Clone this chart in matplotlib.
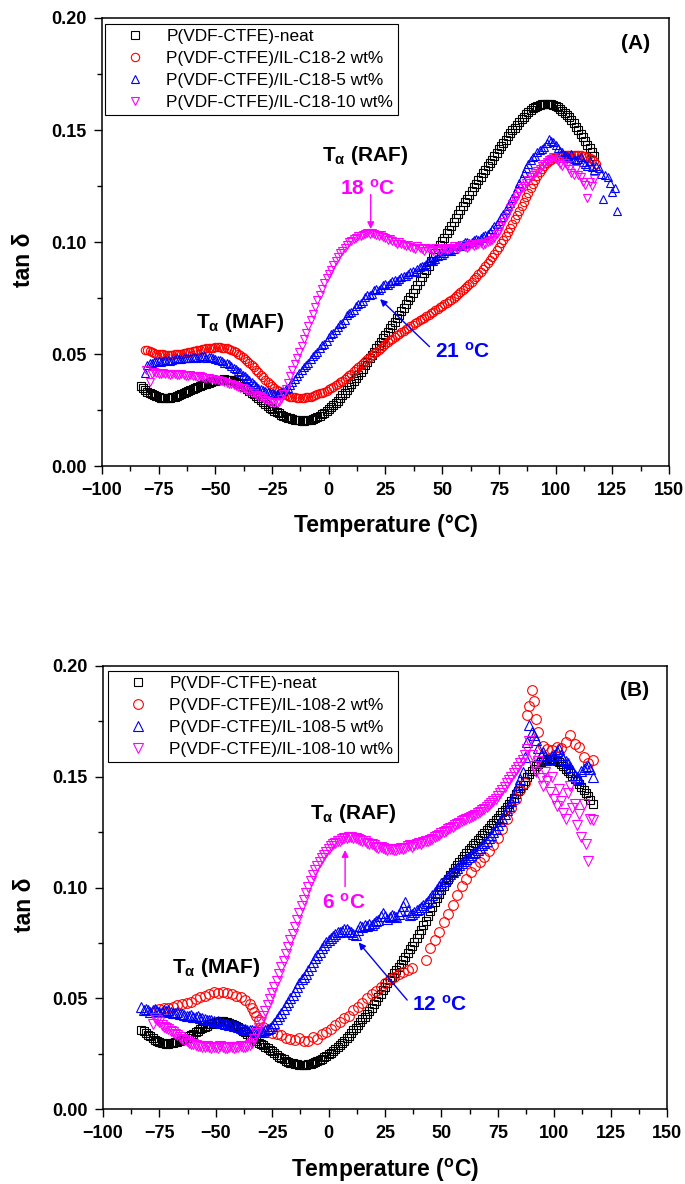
import matplotlib
matplotlib.use("Agg")
import matplotlib.pyplot as plt
from matplotlib.ticker import MultipleLocator, StrMethodFormatter

plt.rcParams.update({
    "font.family": ["Liberation Sans", "DejaVu Sans"],
    "mathtext.fontset": "custom",
    "mathtext.rm": "Liberation Sans:bold",
    "mathtext.it": "Liberation Sans:bold",
    "mathtext.bf": "Liberation Sans:bold",
})

# ---------------- Panel A : IL-C18 (temperature in degC, tan delta) ----------------
tA_neat = [-83, -82, -81, -80, -79, -78, -77, -76, -75, -74,
           -73, -72, -71, -70, -69, -68, -67, -66, -65, -64,
           -63, -62, -61, -60, -59, -58, -57, -56, -55, -54,
           -53, -52, -51, -50, -49, -48, -47, -46, -45, -44,
           -43, -42, -41, -40, -39, -38, -37, -36, -35, -34,
           -33, -32, -31, -30, -29, -28, -27, -26, -25, -24,
           -23, -22, -21, -20, -19, -18, -17, -16, -15, -14,
           -13, -12, -11, -10, -9, -8, -7, -6, -5, -4,
           -3, -2, -1, 0, 1, 2, 3, 4, 5, 6,
           7, 8, 9, 10, 11, 12, 13, 14, 15, 16,
           17, 18, 19, 20, 21, 22, 23, 24, 25, 26,
           27, 28, 29, 30, 31, 32, 33, 34, 35, 36,
           37, 38, 39, 40, 41, 42, 43, 44, 45, 46,
           47, 48, 49, 50, 51, 52, 53, 54, 55, 56,
           57, 58, 59, 60, 61, 62, 63, 64, 65, 66,
           67, 68, 69, 70, 71, 72, 73, 74, 75, 76,
           77, 78, 79, 80, 81, 82, 83, 84, 85, 86,
           87, 88, 89, 90, 91, 92, 93, 94, 95, 96,
           97, 98, 99, 100, 101, 102, 103, 104, 105, 106,
           107, 108, 109, 110, 111, 112, 113, 114, 115, 116,
           117]
dA_neat = [0.0356, 0.0350, 0.0340, 0.0332, 0.0326, 0.0320, 0.0315, 0.0311, 0.0308, 0.0305,
           0.0304, 0.0303, 0.0303, 0.0304, 0.0306, 0.0309, 0.0312, 0.0316, 0.0320, 0.0325,
           0.0330, 0.0335, 0.0340, 0.0345, 0.0349, 0.0353, 0.0357, 0.0361, 0.0365, 0.0368,
           0.0372, 0.0375, 0.0378, 0.0381, 0.0383, 0.0385, 0.0386, 0.0387, 0.0386, 0.0385,
           0.0382, 0.0379, 0.0375, 0.0370, 0.0364, 0.0358, 0.0351, 0.0344, 0.0336, 0.0328,
           0.0320, 0.0311, 0.0302, 0.0294, 0.0285, 0.0277, 0.0269, 0.0261, 0.0254, 0.0247,
           0.0241, 0.0235, 0.0229, 0.0224, 0.0220, 0.0216, 0.0213, 0.0210, 0.0207, 0.0205,
           0.0204, 0.0203, 0.0203, 0.0204, 0.0205, 0.0207, 0.0210, 0.0214, 0.0219, 0.0224,
           0.0231, 0.0238, 0.0246, 0.0255, 0.0263, 0.0272, 0.0282, 0.0292, 0.0303, 0.0315,
           0.0327, 0.0340, 0.0353, 0.0366, 0.0379, 0.0392, 0.0406, 0.0420, 0.0435, 0.0450,
           0.0465, 0.0480, 0.0495, 0.0510, 0.0525, 0.0540, 0.0555, 0.0570, 0.0585, 0.0600,
           0.0615, 0.0630, 0.0645, 0.0660, 0.0676, 0.0692, 0.0707, 0.0723, 0.0739, 0.0756,
           0.0773, 0.0790, 0.0807, 0.0825, 0.0842, 0.0860, 0.0877, 0.0895, 0.0913, 0.0932,
           0.0950, 0.0968, 0.0985, 0.1003, 0.1020, 0.1038, 0.1055, 0.1073, 0.1090, 0.1108,
           0.1125, 0.1143, 0.1160, 0.1177, 0.1194, 0.1211, 0.1227, 0.1244, 0.1260, 0.1277,
           0.1292, 0.1308, 0.1323, 0.1338, 0.1353, 0.1368, 0.1383, 0.1398, 0.1413, 0.1428,
           0.1442, 0.1457, 0.1471, 0.1485, 0.1498, 0.1511, 0.1524, 0.1536, 0.1548, 0.1559,
           0.1570, 0.1580, 0.1589, 0.1597, 0.1603, 0.1608, 0.1611, 0.1614, 0.1615, 0.1616,
           0.1615, 0.1614, 0.1611, 0.1607, 0.1601, 0.1595, 0.1587, 0.1578, 0.1567, 0.1556,
           0.1543, 0.1530, 0.1515, 0.1500, 0.1484, 0.1468, 0.1452, 0.1435, 0.1418, 0.1400,
           0.1385]

tA_2 = [-81, -80, -79, -78, -77, -76, -75, -74, -73, -72,
        -71, -70, -69, -68, -67, -66, -65, -64, -63, -62,
        -61, -60, -59, -58, -57, -56, -55, -54, -53, -52,
        -51, -50, -49, -48, -47, -46, -45, -44, -43, -42,
        -41, -40, -39, -38, -37, -36, -35, -34, -33, -32,
        -31, -30, -29, -28, -27, -26, -25, -24, -23, -22,
        -21, -20, -19, -18, -17, -16, -15, -14, -13, -12,
        -11, -10, -9, -8, -7, -6, -5, -4, -3, -2,
        -1, 0, 1, 2, 3, 4, 5, 6, 7, 8,
        9, 10, 11, 12, 13, 14, 15, 16, 17, 18,
        19, 20, 21, 22, 23, 24, 25, 26, 27, 28,
        29, 30, 31, 32, 33, 34, 35, 36, 37, 38,
        39, 40, 41, 42, 43, 44, 45, 46, 47, 48,
        49, 50, 51, 52, 53, 54, 55, 56, 57, 58,
        59, 60, 61, 62, 63, 64, 65, 66, 67, 68,
        69, 70, 71, 72, 73, 74, 75, 76, 77, 78,
        79, 80, 81, 82, 83, 84, 85, 86, 87, 88,
        89, 90, 91, 92, 93, 94, 95, 96, 97, 98,
        99, 100, 101, 102, 103, 104, 105, 106, 107, 108,
        109, 110, 111, 112, 113, 114, 115, 116, 117, 118]
dA_2 = [0.0520, 0.0516, 0.0512, 0.0508, 0.0505, 0.0502, 0.0500, 0.0499, 0.0498, 0.0497,
        0.0497, 0.0497, 0.0497, 0.0498, 0.0499, 0.0500, 0.0502, 0.0504, 0.0506, 0.0508,
        0.0510, 0.0512, 0.0514, 0.0516, 0.0519, 0.0521, 0.0523, 0.0525, 0.0527, 0.0528,
        0.0529, 0.0530, 0.0530, 0.0530, 0.0529, 0.0527, 0.0525, 0.0522, 0.0518, 0.0513,
        0.0508, 0.0502, 0.0495, 0.0487, 0.0479, 0.0470, 0.0461, 0.0451, 0.0440, 0.0429,
        0.0418, 0.0407, 0.0396, 0.0385, 0.0375, 0.0365, 0.0356, 0.0348, 0.0340, 0.0333,
        0.0327, 0.0322, 0.0317, 0.0313, 0.0310, 0.0308, 0.0306, 0.0305, 0.0304, 0.0304,
        0.0305, 0.0306, 0.0308, 0.0310, 0.0313, 0.0316, 0.0320, 0.0324, 0.0328, 0.0332,
        0.0337, 0.0342, 0.0348, 0.0354, 0.0360, 0.0367, 0.0374, 0.0381, 0.0389, 0.0397,
        0.0405, 0.0413, 0.0422, 0.0431, 0.0440, 0.0449, 0.0458, 0.0467, 0.0476, 0.0485,
        0.0494, 0.0503, 0.0511, 0.0520, 0.0528, 0.0537, 0.0545, 0.0553, 0.0561, 0.0569,
        0.0576, 0.0583, 0.0590, 0.0597, 0.0604, 0.0611, 0.0617, 0.0624, 0.0630, 0.0637,
        0.0643, 0.0650, 0.0656, 0.0663, 0.0669, 0.0676, 0.0682, 0.0689, 0.0695, 0.0702,
        0.0708, 0.0715, 0.0722, 0.0729, 0.0736, 0.0743, 0.0751, 0.0759, 0.0767, 0.0775,
        0.0784, 0.0793, 0.0803, 0.0813, 0.0823, 0.0834, 0.0845, 0.0856, 0.0868, 0.0880,
        0.0893, 0.0906, 0.0920, 0.0934, 0.0948, 0.0963, 0.0978, 0.0994, 0.1010, 0.1027,
        0.1045, 0.1063, 0.1082, 0.1101, 0.1120, 0.1140, 0.1160, 0.1180, 0.1200, 0.1220,
        0.1240, 0.1259, 0.1278, 0.1296, 0.1312, 0.1327, 0.1340, 0.1351, 0.1360, 0.1368,
        0.1374, 0.1379, 0.1383, 0.1386, 0.1388, 0.1389, 0.1390, 0.1390, 0.1390, 0.1390,
        0.1389, 0.1388, 0.1387, 0.1385, 0.1382, 0.1379, 0.1375, 0.1369, 0.1362, 0.1350]

tA_5 = [-81, -80, -79, -78, -77, -76, -75, -74, -73, -72,
        -71, -70, -69, -68, -67, -66, -65, -64, -63, -62,
        -61, -60, -59, -58, -57, -56, -55, -54, -53, -52,
        -51, -50, -49, -48, -47, -46, -45, -44, -43, -42,
        -41, -40, -39, -38, -37, -36, -35, -34, -33, -32,
        -31, -30, -29, -28, -27, -26, -25, -24, -23, -22,
        -21, -20, -19, -18, -17, -16, -15, -14, -13, -12,
        -11, -10, -9, -8, -7, -6, -5, -4, -3, -2,
        -1, 0, 1, 2, 3, 4, 5, 6, 7, 8,
        9, 10, 11, 12, 13, 14, 15, 16, 17, 18,
        19, 20, 21, 22, 23, 24, 25, 26, 27, 28,
        29, 30, 31, 32, 33, 34, 35, 36, 37, 38,
        39, 40, 41, 42, 43, 44, 45, 46, 47, 48,
        49, 50, 51, 52, 53, 54, 55, 56, 57, 58,
        59, 60, 61, 62, 63, 64, 65, 66, 67, 68,
        69, 70, 71, 72, 73, 74, 75, 76, 77, 78,
        79, 80, 81, 82, 83, 84, 85, 86, 87, 88,
        89, 90, 91, 92, 93, 94, 95, 96, 97, 98,
        99, 100, 101, 102, 103, 104, 105, 106, 107, 108,
        109, 110, 111, 112, 113, 114, 115, 116, 117, 118,
        119, 120, 121, 122, 123, 124, 125, 126, 127]
dA_5 = [0.0415, 0.0452, 0.0460, 0.0458, 0.0463, 0.0466, 0.0470, 0.0465, 0.0468, 0.0472,
        0.0475, 0.0471, 0.0474, 0.0477, 0.0480, 0.0476, 0.0478, 0.0482, 0.0484, 0.0480,
        0.0482, 0.0486, 0.0488, 0.0484, 0.0485, 0.0489, 0.0490, 0.0484, 0.0486, 0.0485,
        0.0482, 0.0477, 0.0475, 0.0472, 0.0468, 0.0462, 0.0458, 0.0454, 0.0448, 0.0438,
        0.0432, 0.0426, 0.0418, 0.0408, 0.0400, 0.0394, 0.0385, 0.0374, 0.0365, 0.0358,
        0.0350, 0.0343, 0.0338, 0.0333, 0.0330, 0.0327, 0.0324, 0.0321, 0.0322, 0.0325,
        0.0330, 0.0335, 0.0342, 0.0350, 0.0362, 0.0376, 0.0390, 0.0402, 0.0415, 0.0428,
        0.0440, 0.0450, 0.0462, 0.0478, 0.0490, 0.0498, 0.0510, 0.0528, 0.0540, 0.0545,
        0.0556, 0.0575, 0.0590, 0.0595, 0.0605, 0.0622, 0.0635, 0.0640, 0.0652, 0.0672,
        0.0685, 0.0688, 0.0697, 0.0716, 0.0725, 0.0728, 0.0738, 0.0755, 0.0765, 0.0762,
        0.0770, 0.0784, 0.0790, 0.0788, 0.0795, 0.0808, 0.0812, 0.0809, 0.0815, 0.0828,
        0.0832, 0.0828, 0.0835, 0.0846, 0.0850, 0.0847, 0.0855, 0.0868, 0.0872, 0.0868,
        0.0878, 0.0890, 0.0895, 0.0893, 0.0900, 0.0913, 0.0918, 0.0916, 0.0925, 0.0937,
        0.0942, 0.0940, 0.0950, 0.0960, 0.0965, 0.0962, 0.0970, 0.0980, 0.0985, 0.0982,
        0.0990, 0.0998, 0.1000, 0.0995, 0.1002, 0.1010, 0.1012, 0.1010, 0.1018, 0.1026,
        0.1030, 0.1036, 0.1045, 0.1058, 0.1070, 0.1082, 0.1095, 0.1110, 0.1125, 0.1142,
        0.1160, 0.1176, 0.1195, 0.1220, 0.1240, 0.1262, 0.1285, 0.1310, 0.1330, 0.1350,
        0.1365, 0.1378, 0.1385, 0.1400, 0.1410, 0.1415, 0.1425, 0.1440, 0.1460, 0.1452,
        0.1445, 0.1432, 0.1420, 0.1408, 0.1400, 0.1390, 0.1382, 0.1375, 0.1395, 0.1372,
        0.1365, 0.1372, 0.1380, 0.1355, 0.1348, 0.1340, 0.1360, 0.1335, 0.1320, 0.1338,
        0.1330, 0.1305, 0.1190, 0.1300, 0.1290, 0.1265, 0.1225, 0.1240, 0.1140]

tA_10 = [-80.5, -79,
         -78, -77, -76, -75, -74, -73, -72, -71, -70, -69,
         -68, -67, -66, -65, -64, -63, -62, -61, -60, -59,
         -58, -57, -56, -55, -54, -53, -52, -51, -50, -49,
         -48, -47, -46, -45, -44, -43, -42, -41, -40, -39,
         -38, -37, -36, -35, -34, -33, -32, -31, -30, -29,
         -28, -27, -26, -25, -24, -23, -22, -21, -20, -19,
         -18, -17, -16, -15, -14, -13, -12, -11, -10, -9,
         -8, -7, -6, -5, -4, -3, -2, -1, 0, 1,
         2, 3, 4, 5, 6, 7, 8, 9, 10, 11,
         12, 13, 14, 15, 16, 17, 18, 19, 20, 21,
         22, 23, 24, 25, 26, 27, 28, 29, 30, 31,
         32, 33, 34, 35, 36, 37, 38, 39, 40, 41,
         42, 43, 44, 45, 46, 47, 48, 49, 50, 51,
         52, 53, 54, 55, 56, 57, 58, 59, 60, 61,
         62, 63, 64, 65, 66, 67, 68, 69, 70, 71,
         72, 73, 74, 75, 76, 77, 78, 79, 80, 81,
         82, 83, 84, 85, 86, 87, 88, 89, 90, 91,
         92, 93, 94, 95, 96, 97, 98, 99, 100, 101,
         102, 103, 104, 105, 106, 107, 108, 109, 110, 111,
         112, 113, 114, 115, 116, 117]
dA_10 = [0.0430, 0.0375,
         0.0412, 0.0418, 0.0414, 0.0412, 0.0410, 0.0416, 0.0412, 0.0410, 0.0408, 0.0413,
         0.0409, 0.0407, 0.0405, 0.0410, 0.0406, 0.0404, 0.0402, 0.0406, 0.0401, 0.0400,
         0.0397, 0.0401, 0.0396, 0.0395, 0.0391, 0.0393, 0.0389, 0.0387, 0.0383, 0.0384,
         0.0380, 0.0378, 0.0374, 0.0372, 0.0368, 0.0365, 0.0361, 0.0358, 0.0354, 0.0350,
         0.0347, 0.0343, 0.0337, 0.0333, 0.0328, 0.0325, 0.0317, 0.0312, 0.0306, 0.0302,
         0.0296, 0.0292, 0.0288, 0.0285, 0.0282, 0.0282, 0.0287, 0.0300, 0.0320, 0.0345,
         0.0372, 0.0400, 0.0428, 0.0455, 0.0483, 0.0510, 0.0537, 0.0565, 0.0595, 0.0625,
         0.0652, 0.0680, 0.0710, 0.0740, 0.0765, 0.0790, 0.0815, 0.0838, 0.0858, 0.0875,
         0.0896, 0.0915, 0.0933, 0.0950, 0.0962, 0.0975, 0.0988, 0.0998, 0.1005, 0.1012,
         0.1020, 0.1025, 0.1026, 0.1030, 0.1036, 0.1038, 0.1035, 0.1040, 0.1036, 0.1032,
         0.1025, 0.1030, 0.1022, 0.1018, 0.1010, 0.1015, 0.1005, 0.1000, 0.0992, 0.0998,
         0.0990, 0.0985, 0.0980, 0.0988, 0.0978, 0.0975, 0.0970, 0.0980, 0.0972, 0.0968,
         0.0962, 0.0975, 0.0968, 0.0965, 0.0960, 0.0972, 0.0966, 0.0962, 0.0968, 0.0975,
         0.0966, 0.0968, 0.0974, 0.0980, 0.0972, 0.0970, 0.0978, 0.0985, 0.0978, 0.0975,
         0.0982, 0.0990, 0.0983, 0.0985, 0.0992, 0.0995, 0.0988, 0.0992, 0.1000, 0.1005,
         0.1010, 0.1020, 0.1034, 0.1050, 0.1070, 0.1090, 0.1110, 0.1130, 0.1150, 0.1170,
         0.1188, 0.1205, 0.1222, 0.1240, 0.1252, 0.1265, 0.1278, 0.1290, 0.1300, 0.1310,
         0.1318, 0.1325, 0.1338, 0.1350, 0.1358, 0.1365, 0.1372, 0.1380, 0.1370, 0.1360,
         0.1350, 0.1340, 0.1352, 0.1345, 0.1325, 0.1310, 0.1300, 0.1325, 0.1300, 0.1290,
         0.1270, 0.1255, 0.1195, 0.1270, 0.1250, 0.1280]

# ---------------- Panel B : IL-108 ----------------
tB_neat = [-83, -82, -81, -80, -79, -78, -77, -76, -75, -74,
           -73, -72, -71, -70, -69, -68, -67, -66, -65, -64,
           -63, -62, -61, -60, -59, -58, -57, -56, -55, -54,
           -53, -52, -51, -50, -49, -48, -47, -46, -45, -44,
           -43, -42, -41, -40, -39, -38, -37, -36, -35, -34,
           -33, -32, -31, -30, -29, -28, -27, -26, -25, -24,
           -23, -22, -21, -20, -19, -18, -17, -16, -15, -14,
           -13, -12, -11, -10, -9, -8, -7, -6, -5, -4,
           -3, -2, -1, 0, 1, 2, 3, 4, 5, 6,
           7, 8, 9, 10, 11, 12, 13, 14, 15, 16,
           17, 18, 19, 20, 21, 22, 23, 24, 25, 26,
           27, 28, 29, 30, 31, 32, 33, 34, 35, 36,
           37, 38, 39, 40, 41, 42, 43, 44, 45, 46,
           47, 48, 49, 50, 51, 52, 53, 54, 55, 56,
           57, 58, 59, 60, 61, 62, 63, 64, 65, 66,
           67, 68, 69, 70, 71, 72, 73, 74, 75, 76,
           77, 78, 79, 80, 81, 82, 83, 84, 85, 86,
           87, 88, 89, 90, 91, 92, 93, 94, 95, 96,
           97, 98, 99, 100, 101, 102, 103, 104, 105, 106,
           107, 108, 109, 110, 111, 112, 113, 114, 115, 116,
           117]
dB_neat = [0.0358, 0.0352, 0.0345, 0.0336, 0.0328, 0.0320, 0.0312, 0.0307, 0.0302, 0.0299,
           0.0296, 0.0295, 0.0295, 0.0296, 0.0298, 0.0301, 0.0304, 0.0308, 0.0312, 0.0317,
           0.0322, 0.0328, 0.0334, 0.0340, 0.0346, 0.0353, 0.0360, 0.0366, 0.0372, 0.0377,
           0.0382, 0.0386, 0.0390, 0.0393, 0.0395, 0.0396, 0.0396, 0.0395, 0.0393, 0.0390,
           0.0386, 0.0381, 0.0376, 0.0369, 0.0362, 0.0354, 0.0346, 0.0338, 0.0330, 0.0322,
           0.0314, 0.0307, 0.0300, 0.0294, 0.0288, 0.0282, 0.0275, 0.0268, 0.0260, 0.0252,
           0.0244, 0.0237, 0.0230, 0.0224, 0.0219, 0.0214, 0.0210, 0.0207, 0.0204, 0.0202,
           0.0200, 0.0200, 0.0200, 0.0201, 0.0203, 0.0205, 0.0208, 0.0212, 0.0216, 0.0222,
           0.0228, 0.0234, 0.0240, 0.0247, 0.0255, 0.0263, 0.0272, 0.0281, 0.0290, 0.0299,
           0.0308, 0.0319, 0.0330, 0.0342, 0.0355, 0.0367, 0.0380, 0.0392, 0.0405, 0.0417,
           0.0430, 0.0444, 0.0458, 0.0473, 0.0488, 0.0504, 0.0520, 0.0536, 0.0552, 0.0567,
           0.0582, 0.0597, 0.0612, 0.0626, 0.0640, 0.0656, 0.0672, 0.0688, 0.0705, 0.0721,
           0.0738, 0.0755, 0.0772, 0.0791, 0.0810, 0.0830, 0.0850, 0.0871, 0.0893, 0.0914,
           0.0935, 0.0953, 0.0970, 0.0988, 0.1005, 0.1023, 0.1040, 0.1056, 0.1072, 0.1086,
           0.1100, 0.1114, 0.1128, 0.1142, 0.1155, 0.1168, 0.1180, 0.1192, 0.1203, 0.1214,
           0.1225, 0.1237, 0.1248, 0.1259, 0.1270, 0.1281, 0.1292, 0.1303, 0.1315, 0.1327,
           0.1340, 0.1352, 0.1365, 0.1378, 0.1392, 0.1406, 0.1420, 0.1435, 0.1450, 0.1465,
           0.1480, 0.1497, 0.1513, 0.1525, 0.1537, 0.1547, 0.1557, 0.1565, 0.1572, 0.1577,
           0.1580, 0.1581, 0.1580, 0.1577, 0.1572, 0.1565, 0.1557, 0.1547, 0.1537, 0.1526,
           0.1515, 0.1504, 0.1492, 0.1480, 0.1467, 0.1454, 0.1441, 0.1427, 0.1412, 0.1395,
           0.1378]

tB_2 = [-77, -75, -73, -71, -69, -67, -65, -63, -61, -59,
        -57, -55, -53, -51, -49, -47, -45, -43, -41, -39,
        -37, -35, -34, -33, -32, -31,
        -29, -27, -25, -23, -21, -19, -17, -15, -13, -11,
        -9, -7, -5, -3, -1, 1, 3, 5, 7, 9,
        11, 13, 15, 17, 19, 21, 23, 25, 27, 29,
        31, 33, 35, 37,
        43, 45, 47, 49, 51, 53, 55, 57, 59, 61,
        63, 65, 67, 69, 71, 73, 75, 77, 79, 81,
        83, 85, 87, 88, 89, 90, 91, 92, 93,
        95, 97, 99, 101, 103, 105, 107, 109, 111, 113, 115, 117]
dB_2 = [0.0440, 0.0452, 0.0455, 0.0458, 0.0462, 0.0468, 0.0472, 0.0478, 0.0485, 0.0495,
        0.0505, 0.0512, 0.0520, 0.0528, 0.0522, 0.0530, 0.0525, 0.0520, 0.0512, 0.0505,
        0.0492, 0.0475, 0.0455, 0.0440, 0.0420, 0.0400,
        0.0372, 0.0355, 0.0345, 0.0338, 0.0335, 0.0322, 0.0318, 0.0310, 0.0322, 0.0305,
        0.0308, 0.0325, 0.0318, 0.0340, 0.0350, 0.0362, 0.0380, 0.0395, 0.0410, 0.0420,
        0.0445, 0.0462, 0.0478, 0.0500, 0.0520, 0.0535, 0.0552, 0.0570, 0.0585, 0.0598,
        0.0610, 0.0618, 0.0628, 0.0635,
        0.0672, 0.0725, 0.0765, 0.0800, 0.0845, 0.0880, 0.0920, 0.0965, 0.1005, 0.1040,
        0.1070, 0.1095, 0.1115, 0.1140, 0.1165, 0.1190, 0.1222, 0.1262, 0.1310, 0.1360,
        0.1400, 0.1440, 0.1470, 0.1780, 0.1820, 0.1890, 0.1840, 0.1760, 0.1700,
        0.1640, 0.1625, 0.1620, 0.1635, 0.1630, 0.1655, 0.1688, 0.1650, 0.1636, 0.1590, 0.1560, 0.1575]

tB_5 = [-83, -82, -81, -80, -79, -78, -77, -76, -75, -74,
        -73, -72, -71, -70, -69, -68, -67, -66, -65, -64,
        -63, -62, -61, -60, -59, -58, -57, -56, -55, -54,
        -53, -52, -51, -50, -49, -48, -47, -46, -45, -44,
        -43, -42, -41, -40, -39, -38, -37, -36, -35, -34,
        -33, -32, -31, -30, -29, -28, -27, -26, -25, -24,
        -23, -22, -21, -20, -19, -18, -17, -16, -15, -14,
        -13, -12, -11, -10, -9, -8, -7, -6, -5, -4,
        -3, -2, -1, 0, 1, 2, 3, 4, 5, 6,
        7, 8, 9, 10, 11, 12, 13, 14, 15, 16,
        17, 18, 19, 20, 21, 22, 23, 24, 25, 26,
        27, 28, 29, 30, 31, 32, 33, 34, 35, 36,
        37, 38, 39, 40, 41, 42, 43, 44, 45, 46,
        47, 48, 49, 50, 51, 52, 53, 54, 55, 56,
        57, 58, 59, 60, 61, 62, 63, 64, 65, 66,
        67, 68, 69, 70, 71, 72, 73, 74, 75, 76,
        77, 78, 79, 80, 81, 82, 83, 84, 85, 86,
        87, 88, 89, 90, 91, 92, 93, 94, 95, 96,
        97, 98, 99, 100, 101, 102, 103, 104, 105, 106,
        107, 108, 109, 110, 111, 112, 113, 114, 115, 116,
        117]
dB_5 = [0.0460, 0.0448, 0.0452, 0.0445, 0.0440, 0.0447, 0.0450, 0.0442, 0.0438, 0.0440,
        0.0446, 0.0441, 0.0445, 0.0438, 0.0432, 0.0435, 0.0438, 0.0428, 0.0430, 0.0425,
        0.0422, 0.0420, 0.0424, 0.0416, 0.0415, 0.0418, 0.0411, 0.0410, 0.0406, 0.0402,
        0.0400, 0.0404, 0.0397, 0.0395, 0.0398, 0.0389, 0.0390, 0.0386, 0.0382, 0.0380,
        0.0383, 0.0376, 0.0375, 0.0370, 0.0365, 0.0360, 0.0362, 0.0357, 0.0355, 0.0358,
        0.0352, 0.0355, 0.0350, 0.0353, 0.0350, 0.0355, 0.0360, 0.0365, 0.0376, 0.0390,
        0.0405, 0.0420, 0.0435, 0.0450, 0.0468, 0.0485, 0.0500, 0.0515, 0.0533, 0.0550,
        0.0568, 0.0585, 0.0596, 0.0610, 0.0628, 0.0645, 0.0662, 0.0680, 0.0695, 0.0710,
        0.0726, 0.0740, 0.0752, 0.0765, 0.0772, 0.0780, 0.0792, 0.0800, 0.0798, 0.0805,
        0.0812, 0.0815, 0.0806, 0.0800, 0.0790, 0.0785, 0.0808, 0.0825, 0.0822, 0.0830,
        0.0828, 0.0835, 0.0832, 0.0840, 0.0848, 0.0855, 0.0870, 0.0885, 0.0870, 0.0860,
        0.0868, 0.0875, 0.0870, 0.0865, 0.0880, 0.0895, 0.0915, 0.0935, 0.0900, 0.0875,
        0.0882, 0.0890, 0.0898, 0.0905, 0.0912, 0.0920, 0.0930, 0.0940, 0.0952, 0.0965,
        0.0980, 0.0995, 0.1008, 0.1020, 0.1030, 0.1040, 0.1050, 0.1060, 0.1070, 0.1080,
        0.1090, 0.1100, 0.1110, 0.1120, 0.1130, 0.1140, 0.1148, 0.1155, 0.1162, 0.1170,
        0.1180, 0.1190, 0.1200, 0.1210, 0.1222, 0.1235, 0.1250, 0.1265, 0.1282, 0.1300,
        0.1315, 0.1330, 0.1350, 0.1370, 0.1390, 0.1410, 0.1438, 0.1465, 0.1492, 0.1520,
        0.1590, 0.1655, 0.1735, 0.1700, 0.1690, 0.1665, 0.1630, 0.1600, 0.1610, 0.1595,
        0.1575, 0.1580, 0.1595, 0.1600, 0.1615, 0.1625, 0.1600, 0.1580, 0.1570, 0.1560,
        0.1545, 0.1530, 0.1510, 0.1500, 0.1490, 0.1525, 0.1535, 0.1545, 0.1550, 0.1535,
        0.1500]

tB_10 = [-78, -77, -76, -75, -74, -73, -72, -71, -70, -69,
         -68, -67, -66, -65, -64, -63, -62, -61, -60, -59,
         -58, -57, -56, -55, -54, -53, -52, -51, -50, -49,
         -48, -47, -46, -45, -44, -43, -42, -41, -40, -39,
         -38, -37, -36, -35, -34, -33, -32, -31, -30, -29,
         -28, -27, -26, -25, -24, -23, -22, -21, -20, -19,
         -18, -17, -16, -15, -14, -13, -12, -11, -10, -9,
         -8, -7, -6, -5, -4, -3, -2, -1, 0, 1,
         2, 3, 4, 5, 6, 7, 8, 9, 10, 11,
         12, 13, 14, 15, 16, 17, 18, 19, 20, 21,
         22, 23, 24, 25, 26, 27, 28, 29, 30, 31,
         32, 33, 34, 35, 36, 37, 38, 39, 40, 41,
         42, 43, 44, 45, 46, 47, 48, 49, 50, 51,
         52, 53, 54, 55, 56, 57, 58, 59, 60, 61,
         62, 63, 64, 65, 66, 67, 68, 69, 70, 71,
         72, 73, 74, 75, 76, 77, 78, 79, 80, 81,
         82, 83, 84, 85, 86, 87, 88, 89, 90, 91,
         92, 93, 94, 95, 96, 97, 98, 99, 100, 101,
         102, 103, 104, 105, 106, 107, 108, 109, 110, 111,
         112, 113, 114, 115, 116, 117]
dB_10 = [0.0385, 0.0410, 0.0402, 0.0395, 0.0380, 0.0370, 0.0364, 0.0360, 0.0352, 0.0348,
         0.0340, 0.0335, 0.0325, 0.0318, 0.0310, 0.0305, 0.0300, 0.0295, 0.0292, 0.0290,
         0.0286, 0.0285, 0.0282, 0.0280, 0.0283, 0.0278, 0.0275, 0.0282, 0.0279, 0.0276,
         0.0283, 0.0280, 0.0277, 0.0275, 0.0279, 0.0281, 0.0276, 0.0278, 0.0281, 0.0284,
         0.0279, 0.0282, 0.0286, 0.0290, 0.0300, 0.0318, 0.0343, 0.0368, 0.0393, 0.0418,
         0.0443, 0.0470, 0.0495, 0.0522, 0.0550, 0.0580, 0.0610, 0.0640, 0.0670, 0.0700,
         0.0732, 0.0762, 0.0792, 0.0822, 0.0852, 0.0885, 0.0915, 0.0945, 0.0975, 0.1002,
         0.1030, 0.1055, 0.1078, 0.1098, 0.1115, 0.1132, 0.1148, 0.1162, 0.1175, 0.1186,
         0.1195, 0.1203, 0.1208, 0.1212, 0.1218, 0.1222, 0.1225, 0.1230, 0.1228, 0.1225,
         0.1222, 0.1218, 0.1215, 0.1210, 0.1208, 0.1203, 0.1198, 0.1196, 0.1192, 0.1185,
         0.1180, 0.1182, 0.1178, 0.1172, 0.1168, 0.1176, 0.1175, 0.1170, 0.1168, 0.1176,
         0.1180, 0.1174, 0.1178, 0.1186, 0.1190, 0.1185, 0.1192, 0.1198, 0.1200, 0.1198,
         0.1205, 0.1210, 0.1212, 0.1215, 0.1220, 0.1228, 0.1232, 0.1238, 0.1245, 0.1252,
         0.1255, 0.1262, 0.1268, 0.1275, 0.1280, 0.1286, 0.1292, 0.1300, 0.1305, 0.1308,
         0.1312, 0.1320, 0.1325, 0.1328, 0.1335, 0.1343, 0.1350, 0.1355, 0.1362, 0.1372,
         0.1380, 0.1390, 0.1400, 0.1414, 0.1428, 0.1442, 0.1455, 0.1470, 0.1485, 0.1500,
         0.1515, 0.1530, 0.1545, 0.1560, 0.1575, 0.1600, 0.1625, 0.1660, 0.1600, 0.1550,
         0.1520, 0.1570, 0.1495, 0.1460, 0.1520, 0.1480, 0.1430, 0.1500, 0.1400, 0.1370,
         0.1445, 0.1390, 0.1335, 0.1310, 0.1425, 0.1460, 0.1360, 0.1375, 0.1280, 0.1330,
         0.1230, 0.1375, 0.1195, 0.1120, 0.1310, 0.1305]

labels_A = ["P(VDF-CTFE)-neat", "P(VDF-CTFE)/IL-C18-2 wt%",
            "P(VDF-CTFE)/IL-C18-5 wt%", "P(VDF-CTFE)/IL-C18-10 wt%"]
labels_B = ["P(VDF-CTFE)-neat", "P(VDF-CTFE)/IL-108-2 wt%",
            "P(VDF-CTFE)/IL-108-5 wt%", "P(VDF-CTFE)/IL-108-10 wt%"]

colors = ["#000000", "#FF0000", "#0000FF", "#FF00FF"]
markers = ["s", "o", "^", "v"]

fig = plt.figure(figsize=(6.85, 11.84), dpi=100)
axA = fig.add_axes([0.1489, 0.6064, 0.8277, 0.3784])
axB = fig.add_axes([0.1504, 0.0633, 0.8234, 0.3742])


def draw_series(ax, series, labels, sizes):
    for (t, d), lab, c, m, ms in zip(series, labels, colors, markers, sizes):
        ax.plot(t, d, linestyle="none", marker=m, markersize=ms,
                markerfacecolor="none", markeredgecolor=c,
                markeredgewidth=0.8, label=lab)


def style_axes(ax, xlabel):
    ax.set_xlim(-100, 150)
    ax.set_ylim(0, 0.20)
    ax.xaxis.set_major_locator(MultipleLocator(25))
    ax.xaxis.set_minor_locator(MultipleLocator(12.5))
    ax.yaxis.set_major_locator(MultipleLocator(0.05))
    ax.yaxis.set_minor_locator(MultipleLocator(0.025))
    ax.xaxis.set_major_formatter(StrMethodFormatter("{x:.0f}"))
    ax.yaxis.set_major_formatter(StrMethodFormatter("{x:.2f}"))
    ax.tick_params(which="both", direction="out", top=False, right=False,
                   width=1.0, labelsize=13)
    ax.tick_params(which="major", length=6)
    ax.tick_params(which="minor", length=3.3)
    ax.tick_params(axis="x", pad=5.5)
    ax.tick_params(axis="y", pad=5.0)
    for lab in ax.get_xticklabels() + ax.get_yticklabels():
        lab.set_fontweight("bold")
    for sp in ax.spines.values():
        sp.set_linewidth(1.1)
    ax.set_xlabel(xlabel, fontsize=16.5, fontweight="bold")
    ax.set_ylabel("tan δ", fontsize=16.5, fontweight="bold")
    ax.xaxis.set_label_coords(0.5, -0.107)
    ax.yaxis.set_label_coords(-0.118, 0.46)


def add_legend(ax, anchor):
    leg = ax.legend(loc="upper left", bbox_to_anchor=anchor, borderaxespad=0,
                    fontsize=12.4, frameon=True, fancybox=False, framealpha=1,
                    edgecolor="black", numpoints=1, handlelength=2.9,
                    handletextpad=0.35, borderpad=0.3, labelspacing=0.40)
    leg.get_frame().set_linewidth(0.8)


arrow_kw = dict(arrowstyle="-|>", lw=1.0, mutation_scale=10,
                shrinkA=0, shrinkB=0)

# Panel A
draw_series(axA, [(tA_neat, dA_neat), (tA_2, dA_2), (tA_5, dA_5), (tA_10, dA_10)],
            labels_A, [6.0, 6.0, 6.3, 6.3])
style_axes(axA, "Temperature (°C)")
add_legend(axA, (0.0053, 0.9866))
axA.text(135.4, 0.1887, "(A)", fontsize=15, fontweight="bold", ha="center", va="center")
axA.text(16.2, 0.1385, r"T$_{\alpha}$ (RAF)", fontsize=15, fontweight="bold",
         ha="center", va="center")
axA.text(17.1, 0.1240, r"18 $^{o}$C", fontsize=15, fontweight="bold",
         color="#FF00FF", ha="center", va="center")
axA.annotate("", xy=(18.5, 0.1058), xytext=(18.5, 0.1212),
             arrowprops=dict(color="#FF00FF", **arrow_kw))
axA.text(-39.2, 0.0640, r"T$_{\alpha}$ (MAF)", fontsize=15, fontweight="bold",
         ha="center", va="center")
axA.text(58.9, 0.0510, r"21 $^{o}$C", fontsize=15, fontweight="bold",
         color="#0000FF", ha="center", va="center")
axA.annotate("", xy=(22.6, 0.0745), xytext=(44.4, 0.0533),
             arrowprops=dict(color="#0000FF", **arrow_kw))

# Panel B
draw_series(axB, [(tB_neat, dB_neat), (tB_2, dB_2), (tB_5, dB_5), (tB_10, dB_10)],
            labels_B, [6.0, 7.0, 7.0, 6.5])
style_axes(axB, r"Temperature ($^{o}$C)")
add_legend(axB, (0.0089, 0.9887))
axB.text(135.4, 0.1890, "(B)", fontsize=15, fontweight="bold", ha="center", va="center")
axB.text(10.9, 0.1336, r"T$_{\alpha}$ (RAF)", fontsize=15, fontweight="bold",
         ha="center", va="center")
axB.text(6.5, 0.0930, r"6 $^{o}$C", fontsize=15, fontweight="bold",
         color="#FF00FF", ha="center", va="center")
axB.annotate("", xy=(7.3, 0.1169), xytext=(7.3, 0.1004),
             arrowprops=dict(color="#FF00FF", **arrow_kw))
axB.text(-50.0, 0.0637, r"T$_{\alpha}$ (MAF)", fontsize=15, fontweight="bold",
         ha="center", va="center")
axB.text(49.4, 0.0470, r"12 $^{o}$C", fontsize=15, fontweight="bold",
         color="#0000FF", ha="center", va="center")
axB.annotate("", xy=(13.3, 0.0752), xytext=(34.8, 0.0492),
             arrowprops=dict(color="#0000FF", **arrow_kw))

fig.savefig("out.png", dpi=100)
